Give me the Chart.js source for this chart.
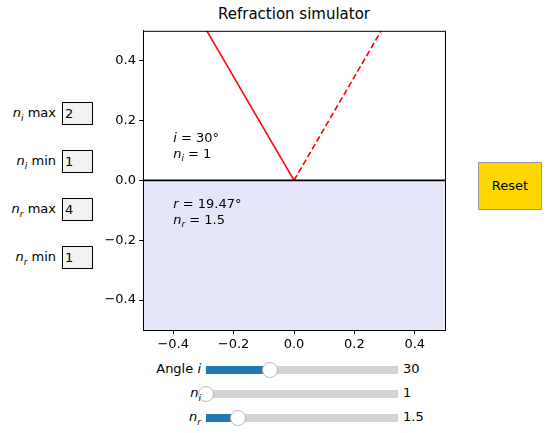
<!DOCTYPE html>
<html><head><meta charset="utf-8">
<script src="https://cdn.jsdelivr.net/npm/chart.js@4"></script>
<style>
body{margin:0;width:552px;height:433px;position:relative;background:#fff;font-family:"DejaVu Sans",sans-serif;font-size:13px;color:#000;overflow:hidden}
.abs{position:absolute}
.tb{position:absolute;left:62px;width:31px;height:23px;border:1px solid #000;background:#f2f2f2;box-sizing:border-box;padding-left:2px;line-height:21px}
.lab{position:absolute;right:496px;text-align:right;white-space:nowrap}
.sl{position:absolute;left:206px;width:192px;height:8px;background:#d3d3d3}
.fill{position:absolute;left:0;top:0;height:8px;background:#1f77b4}
.knob{position:absolute;top:-4px;width:14px;height:14px;margin-left:-8px;border-radius:50%;background:#fff;border:1px solid #bbb}
.slab{position:absolute;right:351px;white-space:nowrap;z-index:2}
.sval{position:absolute;left:403px}
</style></head><body>
<div class="abs" style="left:143px;width:302px;top:5px;text-align:center;font-size:15px">Refraction simulator</div>
<canvas id="c" class="abs" width="352" height="340" style="left:100px;top:20px;width:352px;height:340px"></canvas>
<div id="w"></div>
<div class="abs" style="left:478px;top:162px;width:64px;height:48px;background:#ffd700;border:1px solid #999;box-sizing:border-box;text-align:center;line-height:46px">Reset</div>
<script>
const angleI = 30, nI = 1, nR = 1.5;
const angleR = 19.47;
const xTicks = [-0.4,-0.2,0,0.2,0.4];
const yTicks = [-0.4,-0.2,0,0.2,0.4];
const boxLabels = [['n','i',' max','2'],['n','i',' min','1'],['n','r',' max','4'],['n','r',' min','1']];
const sliders = [['Angle ','i','',angleI,0,90,'30'],['n','i','sub',nI,1,4,'1'],['n','r','sub',nR,1,4,'1.5']];

const ti = Math.tan(angleI*Math.PI/180), tr = Math.tan(angleR*Math.PI/180);
const incident = [{x:0,y:0},{x:-0.5*ti,y:0.5}];
const reflected = [{x:0,y:0},{x:0.5*ti,y:0.5}];
const refracted = [{x:0,y:0},{x:0.5*tr,y:-0.5}];
const water = [{x:-0.5,y:0},{x:0.5,y:0}];

let w='';
boxLabels.forEach((b,k)=>{const top=102+k*48;
 w+=`<div class="lab" style="top:${top+3}px"><i>${b[0]}</i><sub style="font-size:9px"><i>${b[1]}</i></sub>${b[2]}</div><div class="tb" style="top:${top}px">${b[3]}</div>`;});
sliders.forEach((s,k)=>{const top=366+k*24;const f=(s[3]-s[4])/(s[5]-s[4])*192;
 const lbl = s[2]?`<i>${s[0]}</i><sub style="font-size:9px"><i>${s[1]}</i></sub>`:`${s[0]}<i>${s[1]}</i>`;
 w+=`<div class="sl" style="top:${top}px"><div class="fill" style="width:${f}px"></div><div class="knob" style="left:${f}px"></div></div><div class="slab" style="top:${top-5}px">${lbl}</div><div class="sval" style="top:${top-5}px">${s[6]}</div>`;});
document.getElementById('w').innerHTML=w;

const fmt=v=>(Math.abs(v)<1e-9?'0.0':v.toFixed(1)).replace('-','\u2212');
const txt={id:'txt',afterDatasetsDraw(ch){const c=ch.ctx,xs=ch.scales.x,ys=ch.scales.y;
 const draw=(x,y,parts)=>{let px=xs.getPixelForValue(x),py=ys.getPixelForValue(y);c.textBaseline='middle';
  parts.forEach(p=>{c.font=(p[1]?'italic ':'')+(p[2]?'9px':'13px')+' "DejaVu Sans"';c.fillText(p[0],px,py+(p[2]?4:0));px+=c.measureText(p[0]).width;});};
 c.save();c.fillStyle='#000';
 draw(-0.4,0.14,[['i',1],[' = 30°']]);
 draw(-0.4,0.085,[['n',1],['i',1,1],[' = 1']]);
 draw(-0.4,-0.08,[['r',1],[' = 19.47°']]);
 draw(-0.4,-0.135,[['n',1],['r',1,1],[' = 1.5']]);
 c.restore();}};
new Chart(document.getElementById('c'),{type:'scatter',
 data:{datasets:[
  {data:water,showLine:true,borderColor:'#000',borderWidth:1.6,pointRadius:0,fill:'start',backgroundColor:'#e6e6fa'},
  {data:incident,showLine:true,borderColor:'red',borderWidth:1.6,pointRadius:0},
  {data:reflected,showLine:true,borderColor:'red',borderWidth:1.6,borderDash:[6,3],pointRadius:0},
  {data:refracted,showLine:true,borderColor:'red',borderWidth:1.6,borderDash:[2,3],pointRadius:0}]},
 options:{responsive:false,animation:false,devicePixelRatio:1,
  layout:{padding:{top:8,right:7,left:0,bottom:0}},
  plugins:{legend:{display:false},tooltip:{enabled:false}},
  scales:{
   x:{type:'linear',min:-0.5,max:0.5,afterBuildTicks:s=>{s.ticks=xTicks.map(v=>({value:v}))},afterFit:s=>{s.height=30},
    grid:{drawOnChartArea:false,tickLength:4,color:'#000'},border:{color:'#000',width:1},
    ticks:{autoSkip:false,maxRotation:0,color:'#000',font:{size:13,family:'DejaVu Sans'},callback:v=>fmt(v)}},
   y:{type:'linear',min:-0.5,max:0.5,afterBuildTicks:s=>{s.ticks=yTicks.map(v=>({value:v}))},afterFit:s=>{s.width=43},
    grid:{drawOnChartArea:false,tickLength:4,color:'#000'},border:{color:'#000',width:1},
    ticks:{autoSkip:false,color:'#000',font:{size:13,family:'DejaVu Sans'},callback:v=>fmt(v)}}}},
 plugins:[txt,{id:'frame',afterDraw(ch){const a=ch.chartArea,c=ch.ctx;c.save();c.strokeStyle='#000';c.lineWidth=1;c.strokeRect(a.left+0.5,a.top+0.5,a.right-a.left,a.bottom-a.top);c.restore();}}]
});
</script>
</body></html>
